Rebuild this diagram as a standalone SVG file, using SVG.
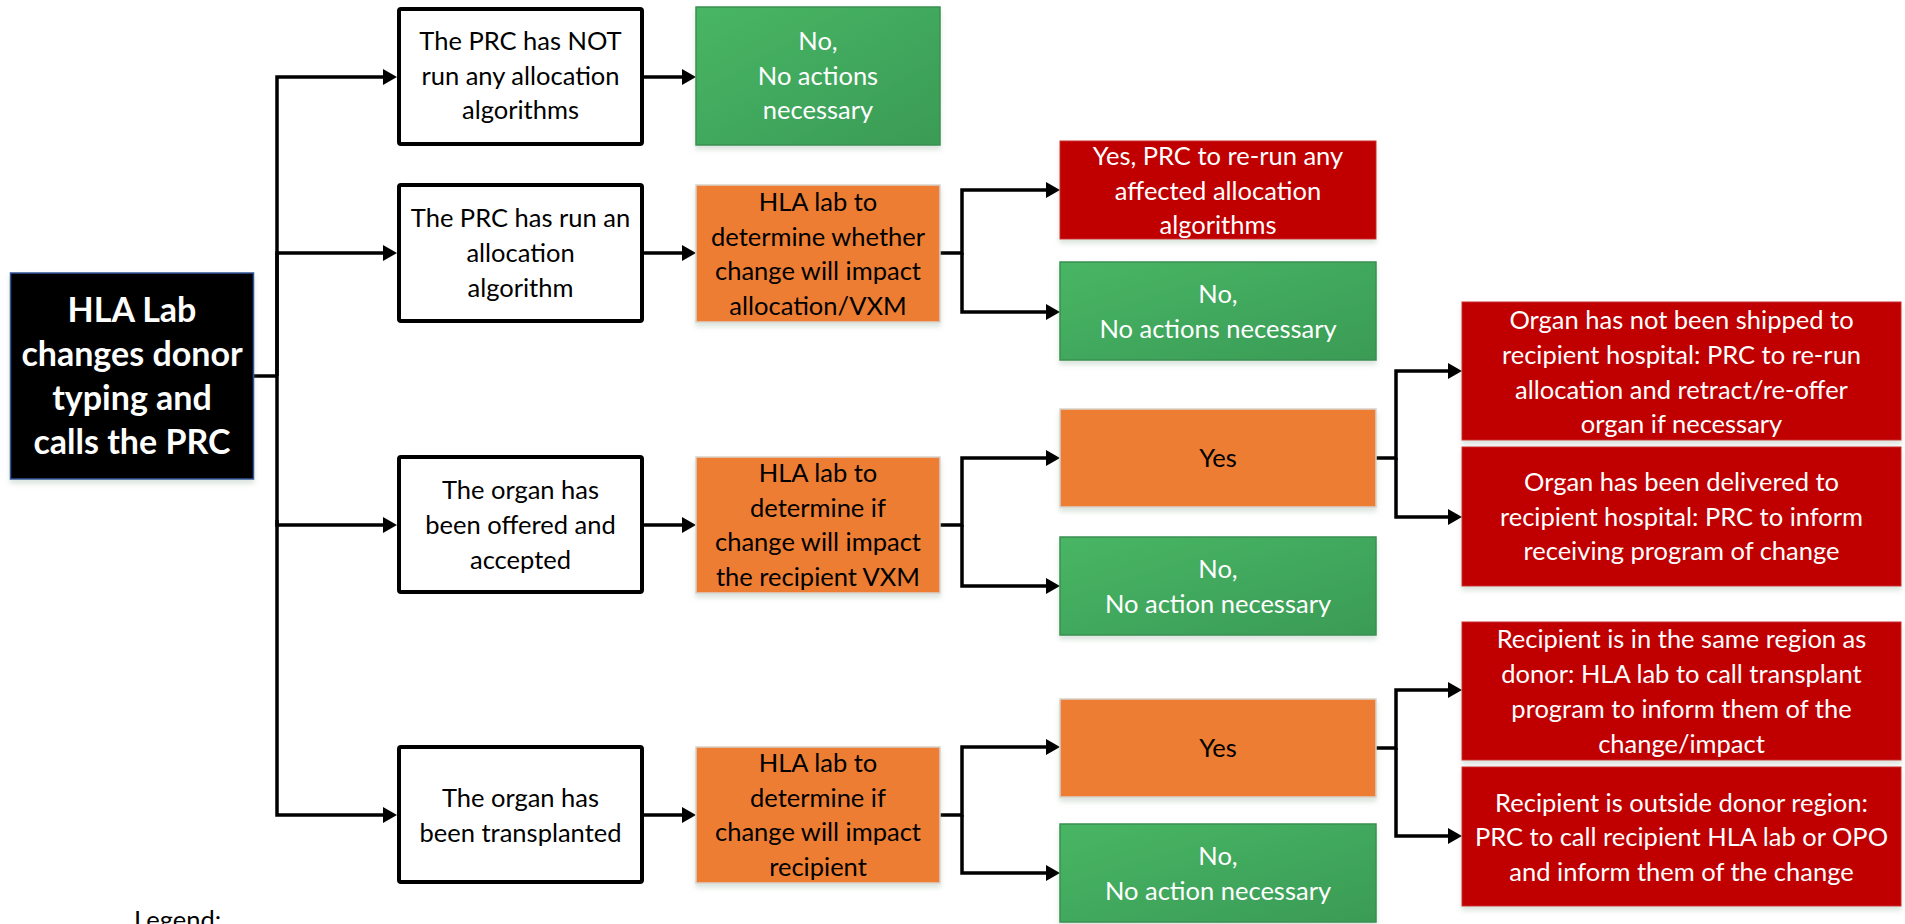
<svg xmlns="http://www.w3.org/2000/svg" width="1905" height="924" viewBox="0 0 1905 924">
<style>
  text { font-family: Lato, "Liberation Sans", sans-serif; font-size: 25.5px; text-anchor: middle; }
  .dk { fill: #000; }
  .wt { fill: #fff; }
  .title { font-size: 34px; font-weight: bold; fill: #fff; }
  .plain { fill: #fff; stroke: #000; stroke-width: 4; }
  .green { fill: url(#gGreen); stroke: #3A8F50; stroke-width: 1.5; }
  .orange { fill: #ED7D31; stroke: #D9D2CC; stroke-width: 1.5; }
  .red { fill: #C00000; stroke: #C8312F; stroke-width: 1; }
  .start { fill: #000; stroke: #2F5597; stroke-width: 1.5; }
  .conn path { fill: none; stroke: #000; stroke-width: 3.5; stroke-linejoin: miter; }
  .arr { marker-end: url(#arrow); }
</style>
<defs>
  <linearGradient id="gGreen" x1="0" y1="0" x2="1" y2="1">
    <stop offset="0" stop-color="#48B664"/>
    <stop offset="1" stop-color="#3A9B56"/>
  </linearGradient>
  <filter id="shadow" x="-5%" y="-10%" width="110%" height="130%">
    <feGaussianBlur in="SourceAlpha" stdDeviation="2.5"/>
    <feOffset dy="4" result="b"/>
    <feFlood flood-color="#7FA088" flood-opacity="0.28"/>
    <feComposite in2="b" operator="in"/>
    <feMerge><feMergeNode/><feMergeNode in="SourceGraphic"/></feMerge>
  </filter>
  <marker id="arrow" markerUnits="userSpaceOnUse" viewBox="0 0 14 16" refX="10" refY="8" markerWidth="14" markerHeight="16" orient="auto">
    <path d="M0,0 L14,8 L0,16 Z" fill="#000"/>
  </marker>
</defs>
<rect width="1905" height="924" fill="#fff"/>

<g class="conn" id="connectors">
  <path d="M254,376 H277"/>
  <path class="arr" d="M277,376 V77 H393"/>
  <path class="arr" d="M277,376 V253 H393"/>
  <path class="arr" d="M277,376 V525 H393"/>
  <path class="arr" d="M277,520 V815 H393"/>
  <path class="arr" d="M644,77 H692"/>
  <path class="arr" d="M644,253 H692"/>
  <path class="arr" d="M644,525 H692"/>
  <path class="arr" d="M644,815 H692"/>
  <path class="arr" d="M940,253 H962 V190 H1056"/>
  <path class="arr" d="M962,253 V312 H1056"/>
  <path class="arr" d="M940,525 H962 V458 H1056"/>
  <path class="arr" d="M962,525 V586 H1056"/>
  <path class="arr" d="M940,815 H962 V747 H1056"/>
  <path class="arr" d="M962,815 V873 H1056"/>
  <path class="arr" d="M1376,458 H1396 V371 H1458"/>
  <path class="arr" d="M1396,458 V517 H1458"/>
  <path class="arr" d="M1376,748 H1396 V690 H1458"/>
  <path class="arr" d="M1396,748 V836 H1458"/>
</g>

<g id="start">
  <rect class="start" x="10.5" y="273" width="243" height="206" filter="url(#shadow)"/>
  <text class="title" x="132" y="322">HLA Lab</text>
  <text class="title" x="132" y="366">changes donor</text>
  <text class="title" x="132" y="410">typing and</text>
  <text class="title" x="132" y="454">calls the PRC</text>
</g>

<g id="q1">
  <rect class="plain" x="399" y="9" width="243" height="135" rx="2"/>
  <text class="dk" x="520.5" y="50">The PRC has NOT</text>
  <text class="dk" x="520.5" y="85">run any allocation</text>
  <text class="dk" x="520.5" y="119">algorithms</text>
</g>
<g id="q2">
  <rect class="plain" x="399" y="185" width="243" height="136" rx="2"/>
  <text class="dk" x="520.5" y="227">The PRC has run an</text>
  <text class="dk" x="520.5" y="262">allocation</text>
  <text class="dk" x="520.5" y="297">algorithm</text>
</g>
<g id="q3">
  <rect class="plain" x="399" y="457" width="243" height="135" rx="2"/>
  <text class="dk" x="520.5" y="499">The organ has</text>
  <text class="dk" x="520.5" y="534">been offered and</text>
  <text class="dk" x="520.5" y="569">accepted</text>
</g>
<g id="q4">
  <rect class="plain" x="399" y="747" width="243" height="135" rx="2"/>
  <text class="dk" x="520.5" y="807">The organ has</text>
  <text class="dk" x="520.5" y="842">been transplanted</text>
</g>

<g id="no1">
  <rect class="green" x="696" y="7" width="244" height="138" filter="url(#shadow)"/>
  <text class="wt" x="818" y="50">No,</text>
  <text class="wt" x="818" y="85">No actions</text>
  <text class="wt" x="818" y="119">necessary</text>
</g>
<g id="check1">
  <rect class="orange" x="696" y="185" width="244" height="137" filter="url(#shadow)"/>
  <text class="dk" x="818" y="211">HLA lab to</text>
  <text class="dk" x="818" y="245.5">determine whether</text>
  <text class="dk" x="818" y="280">change will impact</text>
  <text class="dk" x="818" y="314.5">allocation/VXM</text>
</g>
<g id="check2">
  <rect class="orange" x="696" y="457" width="244" height="136" filter="url(#shadow)"/>
  <text class="dk" x="818" y="482">HLA lab to</text>
  <text class="dk" x="818" y="516.5">determine if</text>
  <text class="dk" x="818" y="551">change will impact</text>
  <text class="dk" x="818" y="585.5">the recipient VXM</text>
</g>
<g id="check3">
  <rect class="orange" x="696" y="747" width="244" height="136" filter="url(#shadow)"/>
  <text class="dk" x="818" y="772">HLA lab to</text>
  <text class="dk" x="818" y="806.5">determine if</text>
  <text class="dk" x="818" y="841">change will impact</text>
  <text class="dk" x="818" y="875.5">recipient</text>
</g>

<g id="yes-rerun">
  <rect class="red" x="1060" y="141" width="316" height="98" filter="url(#shadow)"/>
  <text class="wt" x="1218" y="165">Yes, PRC to re-run any</text>
  <text class="wt" x="1218" y="199.5">affected allocation</text>
  <text class="wt" x="1218" y="234">algorithms</text>
</g>
<g id="no2">
  <rect class="green" x="1060" y="262" width="316" height="98" filter="url(#shadow)"/>
  <text class="wt" x="1218" y="303">No,</text>
  <text class="wt" x="1218" y="338">No actions necessary</text>
</g>
<g id="yes1">
  <rect class="orange" x="1060" y="409" width="316" height="98" filter="url(#shadow)"/>
  <text class="dk" x="1218" y="467">Yes</text>
</g>
<g id="no3">
  <rect class="green" x="1060" y="537" width="316" height="98" filter="url(#shadow)"/>
  <text class="wt" x="1218" y="578">No,</text>
  <text class="wt" x="1218" y="613">No action necessary</text>
</g>
<g id="yes2">
  <rect class="orange" x="1060" y="699" width="316" height="98" filter="url(#shadow)"/>
  <text class="dk" x="1218" y="757">Yes</text>
</g>
<g id="no4">
  <rect class="green" x="1060" y="824" width="316" height="98" filter="url(#shadow)"/>
  <text class="wt" x="1218" y="865">No,</text>
  <text class="wt" x="1218" y="900">No action necessary</text>
</g>

<g id="shipped">
  <rect class="red" x="1462" y="302" width="439" height="138" filter="url(#shadow)"/>
  <text class="wt" x="1681.5" y="328.5">Organ has not been shipped to</text>
  <text class="wt" x="1681.5" y="363.5">recipient hospital: PRC to re-run</text>
  <text class="wt" x="1681.5" y="398.5">allocation and retract/re-offer</text>
  <text class="wt" x="1681.5" y="433">organ if necessary</text>
</g>
<g id="delivered">
  <rect class="red" x="1462" y="447" width="439" height="139" filter="url(#shadow)"/>
  <text class="wt" x="1681.5" y="491">Organ has been delivered to</text>
  <text class="wt" x="1681.5" y="525.5">recipient hospital: PRC to inform</text>
  <text class="wt" x="1681.5" y="560">receiving program of change</text>
</g>
<g id="same-region">
  <rect class="red" x="1462" y="622" width="439" height="138" filter="url(#shadow)"/>
  <text class="wt" x="1681.5" y="648">Recipient is in the same region as</text>
  <text class="wt" x="1681.5" y="683">donor: HLA lab to call transplant</text>
  <text class="wt" x="1681.5" y="718">program to inform them of the</text>
  <text class="wt" x="1681.5" y="752.5">change/impact</text>
</g>
<g id="outside-region">
  <rect class="red" x="1462" y="767" width="439" height="139" filter="url(#shadow)"/>
  <text class="wt" x="1681.5" y="811.5">Recipient is outside donor region:</text>
  <text class="wt" x="1681.5" y="846">PRC to call recipient HLA lab or OPO</text>
  <text class="wt" x="1681.5" y="880.5">and inform them of the change</text>
</g>

<text class="dk" x="134" y="929" style="text-anchor:start">Legend:</text>
</svg>
